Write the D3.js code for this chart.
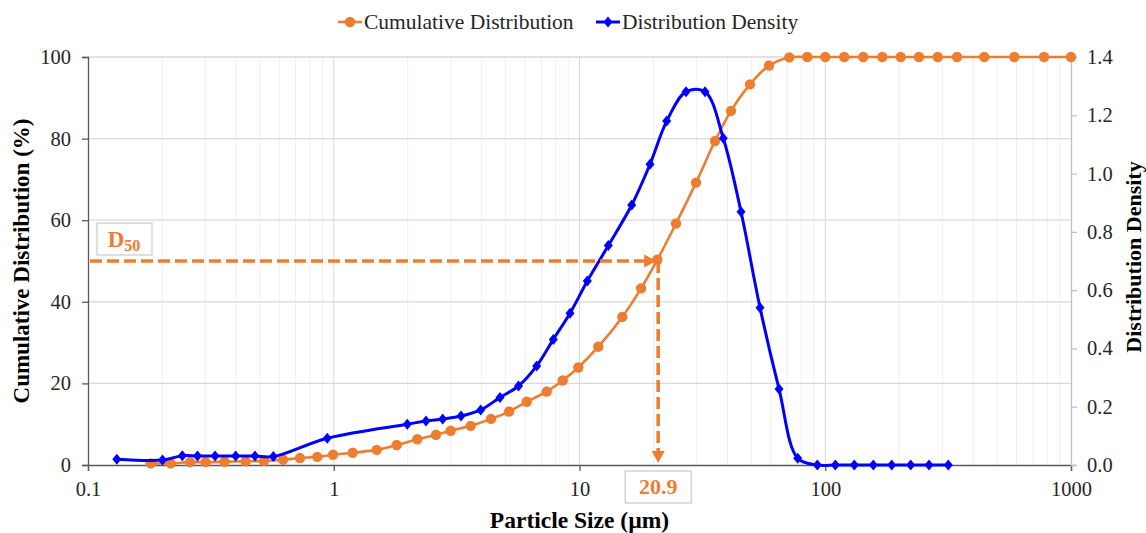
<!DOCTYPE html>
<html>
<head>
<meta charset="utf-8">
<script src="https://cdn.jsdelivr.net/npm/d3@7"></script>
<style>
  body { margin: 0; background: #fff; }
</style>
</head>
<body>
<div id="main"></div>
<script>
// particle sizes (µm) and cumulative distribution (%)
const cumSizes = [0.18, 0.217, 0.26, 0.301, 0.359, 0.438, 0.52, 0.622, 0.729, 0.857, 0.993,
  1.194, 1.495, 1.804, 2.188, 2.607, 2.991, 3.608, 4.364, 5.167, 6.097, 7.354, 8.543, 9.888,
  11.93, 14.94, 17.8, 20.73, 24.7, 29.79, 35.6, 41.35, 49.4, 59.03, 71.4, 84.5, 100, 119.5,
  142.8, 170.7, 202.8, 240.7, 286.8, 343.6, 443.8, 587.9, 776.6, 1000];
const cumValues = [0.4, 0.4, 0.7, 0.7, 0.8, 0.9, 1.0, 1.3, 1.7, 2.0, 2.5,
  3.0, 3.7, 4.9, 6.3, 7.4, 8.4, 9.6, 11.3, 13.1, 15.5, 18.0, 20.7, 23.9,
  29.0, 36.3, 43.3, 50.3, 59.2, 69.2, 79.4, 86.8, 93.3, 97.9, 99.9, 100, 100, 100,
  100, 100, 100, 100, 100, 100, 100, 100, 100, 100];

// particle sizes (µm) and distribution density
const densSizes = [0.131, 0.201, 0.242, 0.279, 0.329, 0.399, 0.478, 0.568, 0.941,
  1.992, 2.373, 2.776, 3.295, 3.963, 4.748, 5.646, 6.697, 7.824, 9.15, 10.76, 13.1,
  16.31, 19.36, 22.64, 27.13, 32.42, 38.47, 45.42, 54.27, 64.84, 77.25, 92.84,
  109.9, 131.3, 156.9, 186.4, 222.7, 264.4, 316.7];
const densValues = [0.02, 0.017, 0.032, 0.031, 0.031, 0.031, 0.031, 0.029, 0.092,
  0.14, 0.151, 0.158, 0.168, 0.189, 0.232, 0.271, 0.34, 0.431, 0.521, 0.631, 0.753,
  0.892, 1.032, 1.18, 1.281, 1.281, 1.121, 0.869, 0.54, 0.261, 0.023, 0,
  0, 0, 0, 0, 0, 0, 0];

const xTicks = [0.1, 1, 10, 100, 1000];
const leftTicks = [0, 20, 40, 60, 80, 100];
const rightTicks = [0, 0.2, 0.4, 0.6, 0.8, 1.0, 1.2, 1.4];
const d50 = 20.9;

const orange = '#ED7D31';
const blue = '#0000FF';
const serif = '"Liberation Serif", "Times New Roman", serif';

const config = {width: 983, height: 408, top: 57, left: 88, right: 75, bottom: 68};

const svg = d3.select('#main')
  .append('svg')
  .attr('width', 1146)
  .attr('height', 533)
  .attr('font-family', serif);

const g = svg.append('g')
  .attr('transform', `translate(${config.left},${config.top})`);

const xScale = d3.scaleLog().domain([0.1, 1000]).range([0, config.width]);
const yLeft = d3.scaleLinear().domain([0, 100]).range([config.height, 0]);
const yRight = d3.scaleLinear().domain([0, 1.4]).range([config.height, 0]);

// minor vertical grid
const minor = [];
[0.1, 1, 10, 100].forEach(dec => {
  for (let k = 2; k <= 9; k++) minor.push(dec * k);
});
g.selectAll('.minor')
  .data(minor)
  .join('line')
  .attr('x1', d => xScale(d)).attr('x2', d => xScale(d))
  .attr('y1', 0).attr('y2', config.height)
  .attr('stroke', '#efefef').attr('stroke-width', 1);

// major vertical grid
g.selectAll('.vmajor')
  .data([1, 10, 100])
  .join('line')
  .attr('x1', d => xScale(d)).attr('x2', d => xScale(d))
  .attr('y1', 0).attr('y2', config.height)
  .attr('stroke', '#d9d9d9').attr('stroke-width', 1);

// horizontal grid
g.selectAll('.hgrid')
  .data(leftTicks.slice(1))
  .join('line')
  .attr('x1', 0).attr('x2', config.width)
  .attr('y1', d => yLeft(d)).attr('y2', d => yLeft(d))
  .attr('stroke', '#d9d9d9').attr('stroke-width', 1.3);

// axes
const xAxis = d3.axisBottom(xScale).tickValues(xTicks).tickFormat(d => d).tickSizeOuter(0).tickSize(6);
const leftAxis = d3.axisLeft(yLeft).tickValues(leftTicks).tickSizeOuter(0).tickSize(6);
const rightAxis = d3.axisRight(yRight).tickValues(rightTicks).tickFormat(d3.format('.1f')).tickSizeOuter(0).tickSize(6);

const gx = g.append('g').attr('transform', `translate(0,${config.height})`).call(xAxis);
const gl = g.append('g').call(leftAxis);
const gr = g.append('g').attr('transform', `translate(${config.width},0)`).call(rightAxis);

[gx, gl].forEach(a => {
  a.select('.domain').attr('stroke', '#595959').attr('stroke-width', 1.3);
  a.selectAll('.tick line').attr('stroke', '#595959').attr('stroke-width', 1.3);
});
gr.select('.domain').attr('stroke', '#bfbfbf').attr('stroke-width', 1.3);
gr.selectAll('.tick line').attr('stroke', '#bfbfbf').attr('stroke-width', 1.3);

[gx, gl, gr].forEach(a => {
  a.attr('font-family', serif).attr('font-size', 20.5);
  a.selectAll('.tick text').attr('fill', '#262626');
});
gx.selectAll('.tick text').attr('dy', '1.05em');
gl.selectAll('.tick text').attr('x', -17);
gr.selectAll('.tick text').attr('x', 16);

// lines
const cumData = cumSizes.map((s, i) => ({x: s, y: cumValues[i]}));
const densData = densSizes.map((s, i) => ({x: s, y: densValues[i]}));

const cumLine = d3.line()
  .x(d => xScale(d.x)).y(d => yLeft(d.y))
  .curve(d3.curveCatmullRom.alpha(0.5));
const densLine = d3.line()
  .x(d => xScale(d.x)).y(d => yRight(d.y))
  .curve(d3.curveCatmullRom.alpha(0.5));

g.append('path')
  .datum(cumData)
  .attr('d', cumLine)
  .attr('fill', 'none')
  .attr('stroke', orange)
  .attr('stroke-width', 2.6);

g.selectAll('.cumdot')
  .data(cumData)
  .join('circle')
  .attr('cx', d => xScale(d.x))
  .attr('cy', d => yLeft(d.y))
  .attr('r', 5.2)
  .attr('fill', orange);

g.append('path')
  .datum(densData)
  .attr('d', densLine)
  .attr('fill', 'none')
  .attr('stroke', blue)
  .attr('stroke-width', 3);

const diamond = 'M0,-5.5L4.5,0L0,5.5L-4.5,0Z';
g.selectAll('.densdot')
  .data(densData)
  .join('path')
  .attr('d', diamond)
  .attr('transform', d => `translate(${xScale(d.x)},${yRight(d.y)})`)
  .attr('fill', blue);

// D50 annotation
const dx = xScale(d50);
const dy = yLeft(50);
const ann = g.append('g');
ann.append('line')
  .attr('x1', 2).attr('x2', dx - 12)
  .attr('y1', dy).attr('y2', dy)
  .attr('stroke', orange).attr('stroke-width', 3.6)
  .attr('stroke-dasharray', '12,5');
ann.append('path')
  .attr('d', `M${dx - 14},${dy - 6.5}L${dx - 2},${dy}L${dx - 14},${dy + 6.5}Z`)
  .attr('fill', orange);
ann.append('line')
  .attr('x1', dx).attr('x2', dx)
  .attr('y1', dy).attr('y2', config.height - 12)
  .attr('stroke', orange).attr('stroke-width', 3.6)
  .attr('stroke-dasharray', '12,5');
ann.append('path')
  .attr('d', `M${dx - 6.5},${config.height - 14}L${dx},${config.height - 2}L${dx + 6.5},${config.height - 14}Z`)
  .attr('fill', orange);

// D50 label box
ann.append('rect')
  .attr('x', 9).attr('y', dy - 38)
  .attr('width', 55).attr('height', 32)
  .attr('fill', '#fff').attr('stroke', '#bfbfbf').attr('stroke-width', 1);
const dText = ann.append('text')
  .attr('x', 36).attr('y', dy - 14)
  .attr('text-anchor', 'middle')
  .attr('fill', orange)
  .attr('font-weight', 'bold')
  .attr('font-size', 23);
dText.append('tspan').text('D');
dText.append('tspan').attr('font-size', 16).attr('dy', 4).text('50');

// 20.9 label box
ann.append('rect')
  .attr('x', dx - 33).attr('y', config.height + 6)
  .attr('width', 66).attr('height', 32)
  .attr('fill', '#fff').attr('stroke', '#bfbfbf').attr('stroke-width', 1);
ann.append('text')
  .attr('x', dx).attr('y', config.height + 29)
  .attr('text-anchor', 'middle')
  .attr('fill', orange)
  .attr('font-weight', 'bold')
  .attr('font-size', 22)
  .text(d50);

// axis titles
svg.append('text')
  .attr('x', config.left + config.width / 2)
  .attr('y', 528)
  .attr('text-anchor', 'middle')
  .attr('font-weight', 'bold')
  .attr('font-size', 23.5)
  .attr('fill', '#000')
  .text('Particle Size (µm)');

svg.append('text')
  .attr('transform', `translate(29,${config.top + config.height / 2}) rotate(-90)`)
  .attr('text-anchor', 'middle')
  .attr('font-weight', 'bold')
  .attr('font-size', 23)
  .attr('fill', '#000')
  .text('Cumulative Distribution (%)');

svg.append('text')
  .attr('transform', `translate(1141,${config.top + 200}) rotate(-90)`)
  .attr('text-anchor', 'middle')
  .attr('font-weight', 'bold')
  .attr('font-size', 22)
  .attr('fill', '#000')
  .text('Distribution Density');

// legend
const legend = svg.append('g').attr('transform', 'translate(338,22)');
const l1 = legend.append('g');
l1.append('line').attr('x1', 0).attr('x2', 24).attr('y1', 0).attr('y2', 0)
  .attr('stroke', orange).attr('stroke-width', 2.6);
l1.append('circle').attr('cx', 12).attr('cy', 0).attr('r', 5.2).attr('fill', orange);
l1.append('text').attr('x', 26).attr('y', 7)
  .attr('font-size', 21.5).attr('fill', '#262626')
  .text('Cumulative Distribution');

const l2 = legend.append('g').attr('transform', 'translate(258,0)');
l2.append('line').attr('x1', 0).attr('x2', 24).attr('y1', 0).attr('y2', 0)
  .attr('stroke', blue).attr('stroke-width', 3);
l2.append('path').attr('d', diamond).attr('transform', 'translate(12,0)').attr('fill', blue);
l2.append('text').attr('x', 26).attr('y', 7)
  .attr('font-size', 21.5).attr('fill', '#262626')
  .text('Distribution Density');
</script>
</body>
</html>
